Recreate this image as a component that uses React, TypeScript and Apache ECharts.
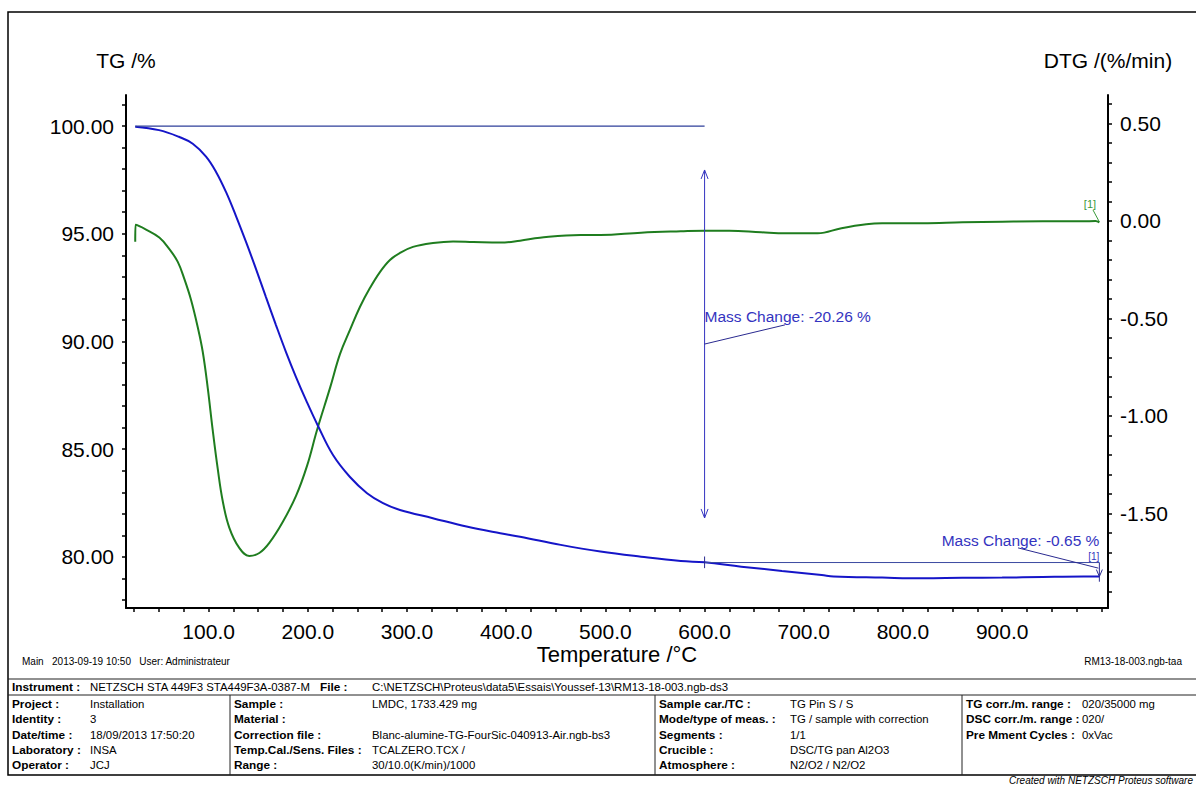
import React, { useEffect, useRef } from "react";
import * as echarts from "echarts";

// ---------- data ----------
const tgTemp = [26, 50, 70, 84, 97.4, 107.5, 117.5, 127.6, 137.7, 147.8, 157.8, 167.9, 178, 188.1, 198.2, 210.3, 225.4, 242.5, 259.7, 275.8, 292.9, 326, 360, 394, 414, 455, 495, 536, 576, 600, 637, 678, 718, 730, 779, 820, 860, 900, 941, 982, 998];
const tgValues = [99.97, 99.81, 99.5, 99.18, 98.58, 97.87, 96.94, 95.82, 94.62, 93.36, 92.06, 90.76, 89.51, 88.35, 87.28, 86.08, 84.73, 83.71, 82.96, 82.5, 82.18, 81.8, 81.41, 81.1, 80.94, 80.56, 80.25, 80.01, 79.81, 79.75, 79.55, 79.35, 79.16, 79.09, 79.04, 79.01, 79.03, 79.04, 79.07, 79.09, 79.09];

const dtgTemp = [26, 26.3, 36.9, 50.3, 60.4, 68.9, 75.5, 82.3, 89, 94.1, 99.1, 104.1, 109.2, 114.2, 120.9, 130.9, 141, 151.1, 161.2, 174.7, 188.1, 199.2, 209.3, 222.4, 232.5, 242.5, 252.5, 262.6, 272.7, 282.8, 292.9, 306, 326.2, 346.4, 367, 394, 414, 434, 475, 495, 536, 576, 600, 625, 657, 682, 714, 738, 763, 779, 820, 860, 900, 941, 982, 994, 998];
const dtgValues = [-0.106, -0.02, -0.044, -0.085, -0.144, -0.21, -0.297, -0.405, -0.544, -0.672, -0.856, -1.072, -1.272, -1.436, -1.574, -1.677, -1.718, -1.703, -1.651, -1.544, -1.41, -1.256, -1.072, -0.856, -0.682, -0.559, -0.441, -0.344, -0.262, -0.2, -0.164, -0.133, -0.113, -0.105, -0.108, -0.111, -0.101, -0.086, -0.072, -0.072, -0.06, -0.053, -0.05, -0.05, -0.058, -0.063, -0.063, -0.037, -0.017, -0.012, -0.012, -0.007, -0.004, -0.002, -0.002, 0.0, -0.007];

const xLabelValues = [100, 200, 300, 400, 500, 600, 700, 800, 900];
const xTickValues = [25, 50, 75, 100, 125, 150, 175, 200, 225, 250, 275, 300, 325, 350, 375, 400, 425, 450, 475, 500, 525, 550, 575, 600, 625, 650, 675, 700, 725, 750, 775, 800, 825, 850, 875, 900, 925, 950, 975, 1000];
const tgLabelValues = [80, 85, 90, 95, 100];
const tgTickValues = [78, 79, 80, 81, 82, 83, 84, 85, 86, 87, 88, 89, 90, 91, 92, 93, 94, 95, 96, 97, 98, 99, 100, 101];
const dtgLabelValues = [-1.5, -1.0, -0.5, 0.0, 0.5];
const dtgTickValues = [-1.9, -1.8, -1.7, -1.6, -1.5, -1.4, -1.3, -1.2, -1.1, -1.0, -0.9, -0.8, -0.7, -0.6, -0.5, -0.4, -0.3, -0.2, -0.1, 0.0, 0.1, 0.2, 0.3, 0.4, 0.5, 0.6];

// annotations (data space)
const step1 = { temp: 600, startTemp: 26, from: 100, to: 79.74, label: "Mass Change: -20.26 %" };
const step2 = { temp: 998, from: 79.74, to: 79.09, label: "Mass Change: -0.65 %" };

const tableRows = [
  ["Project :", "Installation", "Sample :", "LMDC, 1733.429 mg", "Sample car./TC :", "TG Pin S / S", "TG corr./m. range :", "020/35000 mg"],
  ["Identity :", "3", "Material :", "", "Mode/type of meas. :", "TG / sample with correction", "DSC corr./m. range :", "020/"],
  ["Date/time :", "18/09/2013 17:50:20", "Correction file :", "Blanc-alumine-TG-FourSic-040913-Air.ngb-bs3", "Segments :", "1/1", "Pre Mment Cycles :", "0xVac"],
  ["Laboratory :", "INSA", "Temp.Cal./Sens. Files :", "TCALZERO.TCX /", "Crucible :", "DSC/TG pan Al2O3", "", ""],
  ["Operator :", "JCJ", "Range :", "30/10.0(K/min)/1000", "Atmosphere :", "N2/O2 / N2/O2", "", ""],
];

const FONT = "'Liberation Sans', Arial, sans-serif";
const BLUE = "#1515c8";
const GREEN = "#1f7d1f";
const ANN = "#3434c0";

export default function App() {
  const ref = useRef<HTMLDivElement>(null);
  useEffect(() => {
    if (!ref.current) return;
    const chart = echarts.init(ref.current, undefined, { renderer: "svg" });
    const axisCommon = {
      axisLine: { show: true, onZero: false, lineStyle: { color: "#000", width: 2 } },
      splitLine: { show: false },
      axisLabel: { color: "#000", fontSize: 21, fontFamily: FONT },
      nameTextStyle: { color: "#000", fontSize: 21, fontFamily: FONT },
      nameMoveOverlap: false,
    };
    chart.setOption({
      animation: false,
      backgroundColor: "#fff",
      grid: { left: 126, right: 88, top: 95, bottom: 177, containLabel: false, outerBoundsMode: "none" },
      xAxis: {
        type: "value",
        min: 16.7,
        max: 1006.7,
        name: "Temperature /°C",
        nameLocation: "middle",
        nameGap: 35,
        ...axisCommon,
        nameTextStyle: { color: "#000", fontSize: 22, fontFamily: FONT },
        axisTick: { show: true, length: 4, lineStyle: { color: "#000", width: 1.5 }, customValues: xTickValues },
        axisLabel: { ...axisCommon.axisLabel, margin: 13, customValues: xLabelValues, formatter: (v: number) => v.toFixed(1) },
      },
      yAxis: [
        {
          type: "value",
          position: "left",
          min: 77.63,
          max: 101.44,
          name: "TG /%",
          nameLocation: "end",
          nameGap: 24,
          ...axisCommon,
          axisTick: { show: true, length: 4, lineStyle: { color: "#000", width: 1.5 }, customValues: tgTickValues },
          axisLabel: { ...axisCommon.axisLabel, margin: 12, customValues: tgLabelValues, formatter: (v: number) => v.toFixed(2) },
        },
        {
          type: "value",
          position: "right",
          min: -1.985,
          max: 0.646,
          name: "DTG /(%/min)",
          nameLocation: "end",
          nameGap: 24,
          ...axisCommon,
          axisTick: { show: true, length: 4, lineStyle: { color: "#000", width: 1.5 }, customValues: dtgTickValues },
          axisLabel: { ...axisCommon.axisLabel, margin: 12, customValues: dtgLabelValues, formatter: (v: number) => v.toFixed(2) },
        },
      ],
      series: [
        {
          type: "line",
          name: "TG",
          yAxisIndex: 0,
          data: tgTemp.map((t, i) => [t, tgValues[i]]),
          showSymbol: false,
          smooth: 0.4,
          lineStyle: { color: BLUE, width: 2 },
          itemStyle: { color: BLUE },
          z: 3,
        },
        {
          type: "line",
          name: "DTG",
          yAxisIndex: 1,
          data: dtgTemp.map((t, i) => [t, dtgValues[i]]),
          showSymbol: false,
          smooth: 0.4,
          lineStyle: { color: GREEN, width: 2 },
          itemStyle: { color: GREEN },
          z: 2,
        },
      ],
    });

    const pL = (t: number, v: number) => chart.convertToPixel({ xAxisIndex: 0, yAxisIndex: 0 }, [t, v]) as number[];
    const pR = (t: number, v: number) => chart.convertToPixel({ xAxisIndex: 0, yAxisIndex: 1 }, [t, v]) as number[];
    const seg = (a: number[], b: number[], stroke: string, w = 1) => ({
      type: "line",
      silent: true,
      shape: { x1: a[0], y1: a[1], x2: b[0], y2: b[1] },
      style: { stroke, lineWidth: w },
      z: 10,
    });
    const txt = (x: number, y: number, text: string, opts: any = {}) => ({
      type: "text",
      silent: true,
      x,
      y,
      style: {
        text,
        fill: opts.fill || "#000",
        font: opts.font || `11px ${FONT}`,
        textAlign: opts.align || "left",
        align: opts.align || "left",
        textVerticalAlign: "middle",
        verticalAlign: "middle",
      },
      z: 10,
    });

    const g: any[] = [];
    // --- annotation 1 ---
    const a0 = pL(step1.startTemp, step1.from);
    const a1 = pL(step1.temp, step1.from);
    g.push(seg(a0, a1, "#2e3f9a", 1.2));
    const arTop = pL(step1.temp, 97.96);
    const arBot = pL(step1.temp, 81.81);
    g.push(seg(arTop, arBot, ANN, 1));
    g.push({ type: "polyline", silent: true, shape: { points: [[arTop[0] - 3.5, arTop[1] + 9], arTop, [arTop[0] + 3.5, arTop[1] + 9]] }, style: { stroke: ANN, fill: "none", lineWidth: 1 }, z: 10 });
    g.push({ type: "polyline", silent: true, shape: { points: [[arBot[0] - 3.5, arBot[1] - 9], arBot, [arBot[0] + 3.5, arBot[1] - 9]] }, style: { stroke: ANN, fill: "none", lineWidth: 1 }, z: 10 });
    g.push(seg(pL(step1.temp, 89.88), pL(681, 90.77), "#2a2a90", 1));
    const t1 = pL(step1.temp, 91.18);
    g.push(txt(t1[0], t1[1], step1.label, { fill: ANN, font: `15.5px ${FONT}` }));
    // --- annotation 2 ---
    const b0 = pL(step1.temp, step1.to);
    const b1 = pL(step2.temp, step2.from);
    g.push(seg(b0, b1, "#3a4aa0", 1));
    g.push(seg(pL(step1.temp, 80.02), pL(step1.temp, 79.48), "#2a2a90", 1));
    g.push(seg(b1, pL(step2.temp, 78.85), "#2a2a90", 1));
    const ae = pL(step2.temp, step2.to);
    g.push({ type: "polyline", silent: true, shape: { points: [[ae[0] - 3, ae[1] - 7], ae, [ae[0] + 3, ae[1] - 7]] }, style: { stroke: "#2a2a90", fill: "none", lineWidth: 1 }, z: 10 });
    g.push(seg(pL(916, 80.42), pL(997, 79.48), "#2a2a90", 1));
    const t2 = pL(step2.temp, 80.74);
    g.push(txt(t2[0], t2[1], step2.label, { fill: ANN, font: `15.5px ${FONT}`, align: "right" }));
    const t3 = pL(step2.temp, 80.03);
    g.push(txt(t3[0], t3[1], "[1]", { fill: ANN, font: `10px ${FONT}`, align: "right" }));
    // green marker
    const gm = pR(988.5, 0.087);
    g.push(txt(gm[0], gm[1], "[1]", { fill: "#3a9a3a", font: `11px ${FONT}`, align: "center" }));
    g.push(seg(pR(991.6, 0.056), pR(998, -0.005), "#3a9a3a", 1));

    // --- frame and info table ---
    g.push({ type: "rect", silent: true, shape: { x: 8, y: 12, width: 1200, height: 763 }, style: { stroke: "#000", fill: "none", lineWidth: 1.5 }, z: 1 });
    g.push(seg([8, 679], [1200, 679], "#222", 1.2));
    g.push(seg([8, 695], [1200, 695], "#222", 1));
    [230, 655, 962].forEach((x) => g.push(seg([x, 695], [x, 775], "#222", 1)));
    g.push(txt(22, 661, "Main   2013-09-19 10:50   User: Administrateur", { font: `10px ${FONT}` }));
    g.push(txt(1182, 661, "RM13-18-003.ngb-taa", { font: `10px ${FONT}`, align: "right" }));
    g.push(txt(12, 687, "Instrument :", { font: `bold 11.8px ${FONT}` }));
    g.push(txt(90, 687, "NETZSCH STA 449F3 STA449F3A-0387-M", { font: `11.4px ${FONT}` }));
    g.push(txt(320, 687, "File :", { font: `bold 11.8px ${FONT}` }));
    g.push(txt(372, 687, "C:\\NETZSCH\\Proteus\\data5\\Essais\\Youssef-13\\RM13-18-003.ngb-ds3", { font: `11.4px ${FONT}` }));
    const colX = [12, 90, 234, 372, 659, 790, 966, 1082];
    tableRows.forEach((row, r) => {
      const y = 704 + r * 15.3;
      row.forEach((cell, c) => {
        if (!cell) return;
        g.push(txt(colX[c], y, cell, { font: c % 2 === 0 ? `bold 11.8px ${FONT}` : `11.4px ${FONT}` }));
      });
    });
    g.push({
      type: "text",
      silent: true,
      x: 1193,
      y: 780,
      style: { text: "Created with NETZSCH Proteus software", fill: "#000", font: `italic 10px ${FONT}`, textAlign: "right", align: "right", textVerticalAlign: "middle", verticalAlign: "middle" },
      z: 10,
    });

    chart.setOption({ graphic: g });
    return () => chart.dispose();
  }, []);
  return <div ref={ref} style={{ position: "absolute", left: 0, top: 0, width: 1196, height: 785, background: "#fff" }} />;
}
